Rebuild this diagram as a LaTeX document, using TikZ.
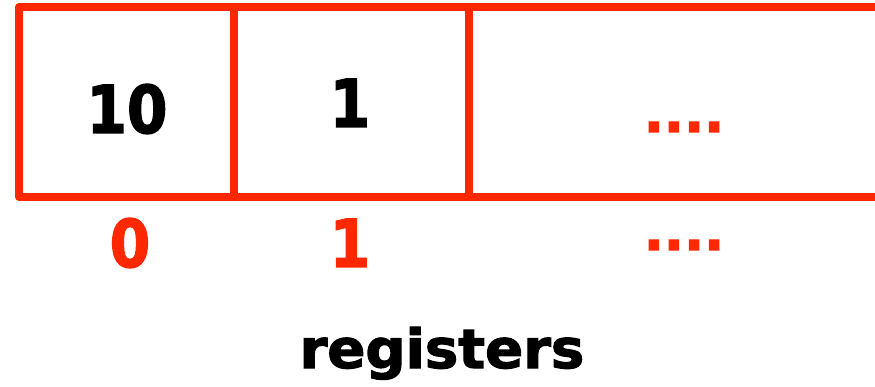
\documentclass[tikz,border=0pt]{standalone}
\usepackage{fontspec}
\setmainfont{DejaVu Sans}[BoldFont={DejaVu Sans Bold}]
\newfontfamily\heavyfont{DejaVu Sans Bold}[FakeBold=2.2]
\definecolor{regred}{RGB}{255,40,0}
\tikzset{
  regline/.style={draw=regred, line width=8pt, line join=round},
  bigtxt/.style={inner sep=0pt, anchor=base, font=\heavyfont\fontsize{66}{70}\selectfont},
  dottxt/.style={inner sep=0pt, anchor=base, text=regred, font=\heavyfont\fontsize{53}{60}\selectfont},
  captxt/.style={inner sep=0pt, anchor=base, font=\heavyfont\fontsize{54}{60}\selectfont},
}
\begin{document}
\begin{tikzpicture}[x=1pt,y=-1pt]
\useasboundingbox (0,0) rectangle (875,387);
\clip (0,0) rectangle (875,387);
\coordinate (tl) at (19,7);
\coordinate (br) at (879,197);
\coordinate (d1t) at (234,7);
\coordinate (d1b) at (234,197);
\coordinate (d2t) at (469,7);
\coordinate (d2b) at (469,197);
\draw[regline] (tl) rectangle (br);
\draw[regline] (d1t) -- (d1b);
\draw[regline] (d2t) -- (d2b);
\node[bigtxt] (v0) at (127,133) {\scalebox{0.88}[1]{10}};
\node[bigtxt] (v1) at (350,127) {\scalebox{0.88}[1]{1}};
\node[dottxt] (v2) at (684,132) {....};
\node[bigtxt, text=regred] (i0) at (130,267) {\scalebox{0.88}[1]{0}};
\node[bigtxt, text=regred] (i1) at (350,267) {\scalebox{0.88}[1]{1}};
\node[dottxt] (i2) at (684,250) {....};
\node[captxt] (cap) at (442,368) {\scalebox{1.04}[1]{registers}};
\end{tikzpicture}
\end{document}
